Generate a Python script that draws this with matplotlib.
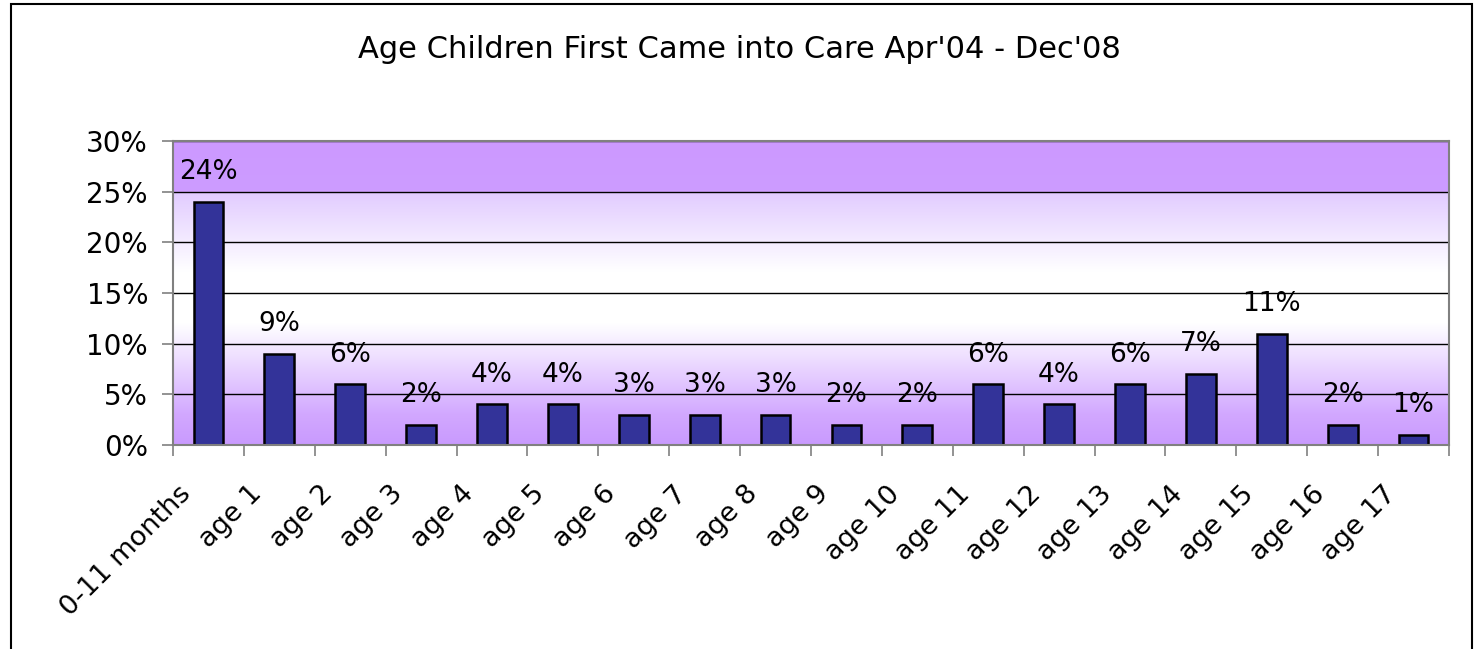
import matplotlib
matplotlib.use("Agg")
import matplotlib.pyplot as plt
import matplotlib.transforms as mtransforms
import numpy as np
from matplotlib.patches import Rectangle
from matplotlib.colors import LinearSegmentedColormap

categories = ["0-11 months", "age 1", "age 2", "age 3", "age 4", "age 5", "age 6",
              "age 7", "age 8", "age 9", "age 10", "age 11", "age 12", "age 13",
              "age 14", "age 15", "age 16", "age 17"]
values = [24, 9, 6, 2, 4, 4, 3, 3, 3, 2, 2, 6, 4, 6, 7, 11, 2, 1]
yticks = [0, 5, 10, 15, 20, 25, 30]
title = "Age Children First Came into Care Apr'04 - Dec'08"

plt.rcParams['font.family'] = ['DejaVu Sans']

fig = plt.figure(figsize=(14.79, 6.49), dpi=100)
fig.patches.append(Rectangle((11/1479, -0.1), (1472-11)/1479, 1.1 - 4/649,
                             transform=fig.transFigure, fill=False,
                             edgecolor='black', linewidth=1.5))

ax = fig.add_axes([173/1479, 1-445/649, (1449-173)/1479, (445-141)/649])
n = len(categories)
x = np.arange(n)
ax.set_xlim(-0.5, n-0.5)
ax.set_ylim(0, 30)

# gradient background
cmap = LinearSegmentedColormap.from_list("bg", [(0.0, "#C99AFE"), (0.10, "#D2A8FF"),
                                                (0.40, "#FFFFFF"), (0.57, "#FFFFFF"),
                                                (0.830, "#E2CCFF"), (0.836, "#CD9CFF"),
                                                (1.0, "#CC99FF")])
grad = np.linspace(0, 1, 512).reshape(-1, 1)
ax.imshow(grad, aspect='auto', cmap=cmap, extent=(-0.5, n-0.5, 0, 30),
          origin='lower', zorder=0, interpolation='bilinear')

for yv in yticks[1:]:
    ax.axhline(yv, color='black', linewidth=1.0, zorder=1)

ax.bar(x, values, width=0.42, color='#333399', edgecolor='black', linewidth=1.8, zorder=3)

for xi, v in zip(x, values):
    ax.annotate(f"{v}%", (xi, v), xytext=(0, 12), textcoords='offset points',
                ha='center', va='bottom', fontsize=19, zorder=4)

ax.set_yticks(yticks)
ax.set_yticklabels([f"{t}%" for t in yticks], fontsize=20)
ax.set_xticks(x)
ax.set_xticklabels(categories, rotation=45, ha='right', va='top',
                   rotation_mode='anchor', fontsize=19.5)
ax.tick_params(axis='x', which='major', length=0, pad=0)
offset = mtransforms.ScaledTranslation(-0.31, -0.36, fig.dpi_scale_trans)
for lbl in ax.get_xticklabels():
    lbl.set_transform(lbl.get_transform() + offset)
ax.set_xticks(np.arange(-0.5, n, 1), minor=True)
ax.tick_params(axis='x', which='minor', length=8, color='#808080', width=1.2, direction='out')
ax.tick_params(axis='y', length=8, color='#808080', width=1.2, direction='out', pad=10)

for s in ax.spines.values():
    s.set_color('#808080')
    s.set_linewidth(1.5)
    s.set_zorder(5)

fig.text(0.5, 1-50/649, title, ha='center', va='center', fontsize=22)

fig.savefig("out.png", dpi=100)
